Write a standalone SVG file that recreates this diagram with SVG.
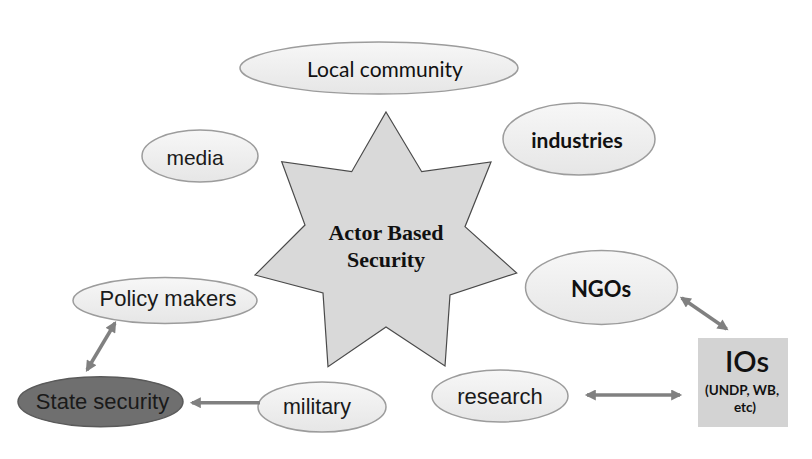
<svg xmlns="http://www.w3.org/2000/svg" width="812" height="459" viewBox="0 0 812 459">
<style>
.ell{fill:url(#g);stroke:#9c9c9c;stroke-width:1.5}
.t{font-family:"Liberation Sans",Arial,sans-serif;fill:#1a1a1a;text-anchor:middle}
.c{font-family:Lato,"Liberation Sans",sans-serif;fill:#111;text-anchor:middle}
.arr{stroke:#808080;stroke-width:3.5;fill:none}
.st{font-family:"Liberation Serif","Times New Roman",serif;font-weight:bold;font-size:22px;text-anchor:middle;fill:#111}
</style>
<defs>
<linearGradient id="g" x1="0" y1="0" x2="0" y2="1">
<stop offset="0" stop-color="#f7f7f7"/>
<stop offset="1" stop-color="#e6e6e6"/>
</linearGradient>
<marker id="ah" viewBox="0 0 10 10" refX="8" refY="5" markerWidth="12" markerHeight="11" markerUnits="userSpaceOnUse" orient="auto-start-reverse">
<path d="M0,0 L10,5 L0,10 z" fill="#808080"/>
</marker>
</defs>
<rect width="812" height="459" fill="#ffffff"/>

<g id="star">
<polygon points="386,112 421.7,171.7 491,162 465,226.7 516.7,273 450,295 445,366 386,327 328,366.7 323,293 255,275 305,225 281.7,161.7 351.7,171.7" fill="#d9d9d9" stroke="#4a4a4a" stroke-width="1.2"/>
<text class="st" x="386" y="240">Actor Based</text>
<text class="st" x="386" y="267">Security</text>
</g>

<g id="local-community">
<ellipse class="ell" cx="379" cy="68" rx="139" ry="26"/>
<text class="c" x="385" y="77" font-size="21">Local community</text>
</g>

<g id="media">
<ellipse class="ell" cx="200" cy="156" rx="58" ry="26"/>
<text class="t" x="195" y="165" font-size="21">media</text>
</g>

<g id="industries">
<ellipse class="ell" cx="579" cy="139" rx="76" ry="36"/>
<text class="c" x="577" y="148" font-size="21" font-weight="bold">industries</text>
</g>

<g id="ngos">
<ellipse class="ell" cx="601.5" cy="287.5" rx="76" ry="37"/>
<text class="c" x="601" y="297" font-size="22" font-weight="bold">NGOs</text>
</g>

<g id="policy-makers">
<ellipse class="ell" cx="165" cy="300.5" rx="92" ry="23"/>
<text class="t" x="168" y="306" font-size="22">Policy makers</text>
</g>

<g id="state-security">
<ellipse cx="100.5" cy="401.7" rx="82.5" ry="25" fill="#6f6f6f" stroke="#5a5a5a" stroke-width="1.5"/>
<text class="t" x="102.5" y="409" font-size="22">State security</text>
</g>

<g id="military">
<ellipse class="ell" cx="322" cy="407" rx="64" ry="25"/>
<text class="t" x="317" y="414" font-size="21.5">military</text>
</g>

<g id="research">
<ellipse class="ell" cx="500" cy="396" rx="68" ry="26"/>
<text class="t" x="500" y="404" font-size="22">research</text>
</g>

<g id="ios">
<rect x="698" y="338" width="90" height="89" fill="#d3d3d3"/>
<text class="c" x="747" y="372" font-size="29" font-weight="600">IOs</text>
<text class="c" x="742" y="395" font-size="13.5" font-weight="bold">(UNDP, WB,</text>
<text class="c" x="745" y="412" font-size="13.5" font-weight="bold">etc)</text>
</g>

<g id="connectors">
<line class="arr" x1="681.7" y1="298" x2="726.7" y2="329" marker-start="url(#ah)" marker-end="url(#ah)"/>
<line class="arr" x1="587" y1="395" x2="680" y2="395" stroke-width="4.5" marker-start="url(#ah)" marker-end="url(#ah)"/>
<line class="arr" x1="115" y1="323" x2="87" y2="370" marker-start="url(#ah)" marker-end="url(#ah)"/>
<line class="arr" x1="260" y1="402.7" x2="192" y2="402.7" marker-end="url(#ah)"/>
</g>
</svg>
